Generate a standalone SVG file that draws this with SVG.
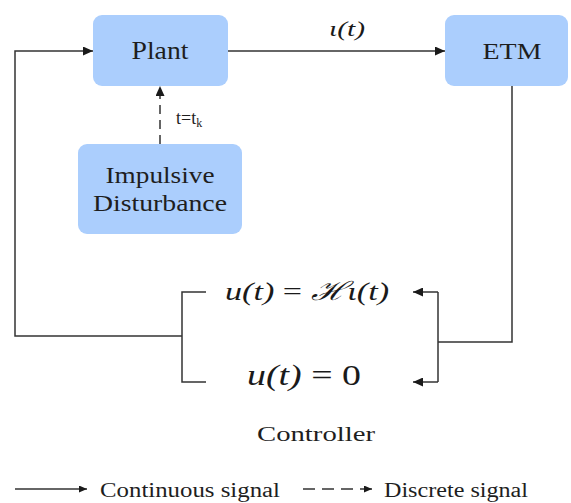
<svg xmlns="http://www.w3.org/2000/svg" width="571" height="503" viewBox="0 0 571 503">
<style>
.box{fill:#abcefd;}
.lbl{fill:#1e1e1e;}
.math{font-style:italic;fill:#1a1a1a;}
.ln{fill:none;stroke:#333;stroke-width:1.5;}
.dash{stroke-dasharray:9,6;}
.ldash{stroke-dasharray:12,7;}
</style>
<defs>
<marker id="ah" markerUnits="userSpaceOnUse" markerWidth="11" markerHeight="9" refX="10" refY="4.5" orient="auto">
<path d="M0,0 L10,4.5 L0,9 z" fill="#1a1a1a"/>
</marker>
<marker id="ahs" markerUnits="userSpaceOnUse" markerWidth="9" markerHeight="7" refX="8" refY="3.5" orient="auto">
<path d="M0,0 L8,3.5 L0,7 z" fill="#1a1a1a"/>
</marker>
</defs>
<g font-family="'Liberation Serif', serif">
<g id="connectors">
<path class="ln" d="M182,336 H15 V51 H93" marker-end="url(#ah)"/>
<path class="ln" d="M228,51 H445" marker-end="url(#ah)"/>
<path class="ln dash" d="M160,144 V86" marker-end="url(#ah)"/>
<path class="ln" d="M512,86 V342 H438"/>
<path class="ln" d="M438,292 V382"/>
<path class="ln" d="M438,292 H413" marker-end="url(#ah)"/>
<path class="ln" d="M438,382 H413" marker-end="url(#ah)"/>
<path class="ln" d="M206,292 H182 V382 H206"/>
<text class="math" x="329" y="36" font-size="22" textLength="36" lengthAdjust="spacingAndGlyphs">ι(t)</text>
<text class="lbl" x="176" y="124" font-size="18">t=t<tspan font-size="12" dy="3">k</tspan></text>
</g>
<g id="plant">
<rect class="box" x="93" y="15" width="135" height="71" rx="9"/>
<text class="lbl" x="160" y="59" font-size="26" text-anchor="middle" textLength="57" lengthAdjust="spacingAndGlyphs">Plant</text>
</g>
<g id="etm">
<rect class="box" x="445" y="15" width="123" height="71" rx="9"/>
<text class="lbl" x="512" y="59" font-size="24" text-anchor="middle" textLength="59" lengthAdjust="spacingAndGlyphs">ETM</text>
</g>
<g id="impulsive">
<rect class="box" x="78" y="144" width="164" height="90" rx="9"/>
<text class="lbl" x="160" y="183" font-size="24" text-anchor="middle" textLength="109" lengthAdjust="spacingAndGlyphs">Impulsive</text>
<text class="lbl" x="160" y="211" font-size="24" text-anchor="middle" textLength="134" lengthAdjust="spacingAndGlyphs">Disturbance</text>
</g>
<g id="controller">
<text class="math" x="225" y="300" font-size="26" textLength="164" lengthAdjust="spacingAndGlyphs">u(t) <tspan font-style="normal">=</tspan> ℋι(t)</text>
<text class="math" x="247" y="385" font-size="29" textLength="114" lengthAdjust="spacingAndGlyphs">u(t) <tspan font-style="normal">= 0</tspan></text>
<text class="lbl" x="257" y="441" font-size="22" textLength="118" lengthAdjust="spacingAndGlyphs">Controller</text>
</g>
<g id="legend">
<path class="ln" d="M15,489 H87" marker-end="url(#ahs)"/>
<text class="lbl" x="100" y="497" font-size="20" textLength="180" lengthAdjust="spacingAndGlyphs">Continuous signal</text>
<path class="ln ldash" d="M303,489 H372" marker-end="url(#ahs)"/>
<text class="lbl" x="384" y="497" font-size="20" textLength="144" lengthAdjust="spacingAndGlyphs">Discrete signal</text>
</g>
</g>
</svg>
